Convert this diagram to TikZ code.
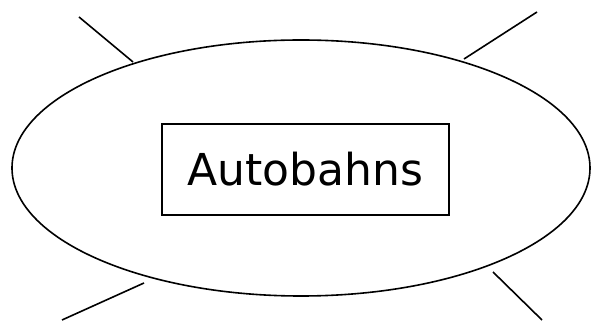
\documentclass[tikz,border=0pt]{standalone}
\usepackage{fontspec}
\setmainfont{DejaVu Sans}
\usetikzlibrary{shapes.geometric}
\begin{document}
\begin{tikzpicture}[x=1pt,y=1pt,
  outline/.style={draw=black,line width=1.6pt},
  spoke/.style={draw=black,line width=1.6pt},
  labelbox/.style={draw=black,line width=1.2pt,minimum width=287pt,minimum height=91pt,inner sep=0pt,font=\fontsize{44}{50}\selectfont}]
\useasboundingbox (0,0) rectangle (592,321);
\node[outline,ellipse,minimum width=578pt,minimum height=256pt,inner sep=0pt] (ell) at (301,153) {};
\node[labelbox] (box) at (305.5,151.5) {Autobahns};
\coordinate (tl1) at (79,304);
\coordinate (tl2) at (133,259);
\coordinate (tr1) at (537,309);
\coordinate (tr2) at (464,262);
\coordinate (bl1) at (62,1);
\coordinate (bl2) at (144,38);
\coordinate (br1) at (493,49);
\coordinate (br2) at (542,1);
\draw[spoke] (tl1) -- (tl2);
\draw[spoke] (tr1) -- (tr2);
\draw[spoke] (bl1) -- (bl2);
\draw[spoke] (br1) -- (br2);
\end{tikzpicture}
\end{document}
